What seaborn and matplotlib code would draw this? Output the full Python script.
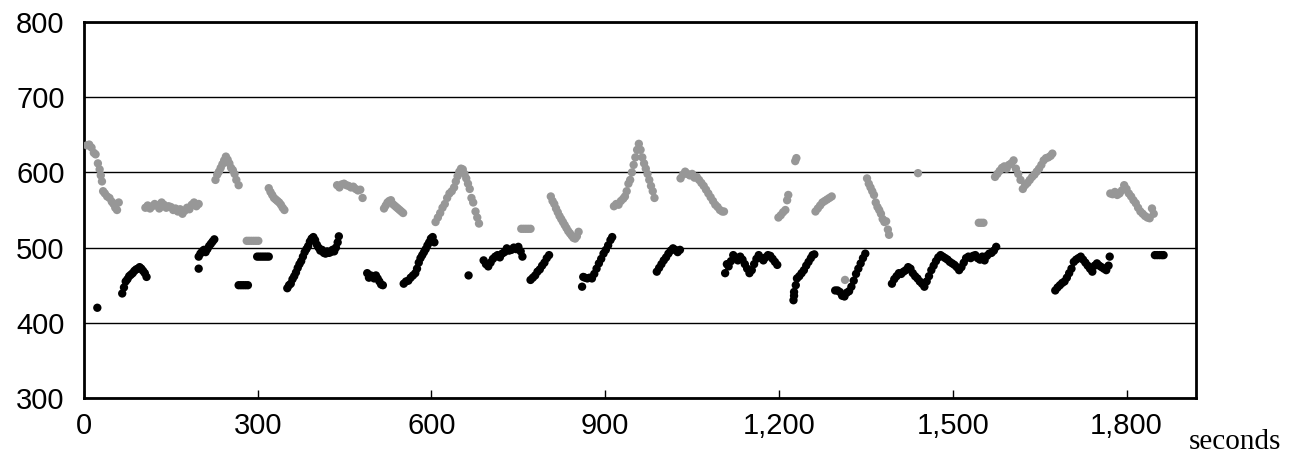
import matplotlib
matplotlib.use("Agg")
import matplotlib.pyplot as plt
import matplotlib.ticker as mticker
import seaborn as sns
import pandas as pd

# ---- data (seconds, value) ----
gray_x = [5, 9, 13, 17, 20, 24, 27, 29, 31, 33, 36, 40, 44, 48, 51, 54, 57, 60,
          106, 110, 114, 118, 122, 126, 130, 134, 138, 142, 146, 150, 154, 158, 162, 166, 170, 174, 178, 182, 186, 190, 194, 198,
          227, 230, 233, 236, 239, 242, 245, 248, 251, 254, 257, 260, 263, 267,
          281, 285, 289, 293, 297, 301,
          319, 322, 325, 328, 331, 334, 337, 340, 343, 346,
          437, 441, 445, 449, 453, 457, 461, 465, 469, 473, 477, 481,
          518, 521, 524, 527, 530, 533, 536, 539, 542, 545, 548, 551,
          607, 611, 615, 619, 623, 627, 631, 635, 639, 642, 645, 648, 651, 654, 657, 660, 663, 666, 669, 672, 676, 679, 682,
          755, 759, 763, 767, 771,
          806, 809, 812, 815, 818, 821, 824, 827, 830, 833, 836, 839, 842, 845, 848, 851, 854,
          915, 919, 923, 927, 931, 934, 937, 940, 943, 946, 949, 952, 955, 958, 961, 964, 967, 970, 973, 976, 979, 982, 985,
          1030, 1034, 1038, 1042, 1046, 1050, 1054, 1058, 1062, 1066, 1070, 1074, 1078, 1082, 1086, 1090, 1094, 1098, 1102, 1105,
          1199, 1203, 1207, 1211, 1214, 1216, 1228, 1230,
          1263, 1267, 1271, 1275, 1279, 1283, 1287, 1291,
          1314,
          1352, 1355, 1358, 1361, 1364, 1367, 1370, 1373, 1376, 1379, 1382, 1385, 1388, 1390,
          1440,
          1545, 1549, 1553,
          1573, 1577, 1581, 1585, 1589, 1593, 1597, 1601, 1605, 1609, 1613, 1617, 1621, 1625, 1629, 1633, 1637, 1641, 1645, 1649, 1653, 1657, 1661, 1665, 1669, 1672,
          1772, 1776, 1780, 1784, 1788, 1792, 1796, 1800, 1804, 1808, 1812, 1816, 1820, 1824, 1828, 1832, 1836, 1840, 1844, 1847]
gray_y = [636, 637, 633, 626, 624, 612, 604, 596, 588, 575, 572, 568, 566, 561, 558, 553, 550, 560,
          553, 556, 552, 555, 558, 556, 552, 560, 557, 553, 555, 554, 550, 552, 548, 551, 545, 549, 553, 551, 557, 560, 555, 558,
          590, 597, 601, 606, 611, 616, 621, 617, 612, 606, 603, 598, 590, 583,
          509, 509, 509, 509, 509, 509,
          579, 574, 570, 566, 564, 562, 560, 557, 553, 550,
          583, 580, 584, 585, 583, 582, 580, 581, 578, 576, 577, 566,
          552, 556, 560, 562, 563, 558, 556, 554, 552, 550, 548, 546,
          534, 540, 546, 553, 558, 566, 572, 575, 580, 588, 595, 601, 605, 604, 598, 592, 585, 578, 566, 560, 548, 540, 532,
          525, 525, 525, 525, 525,
          568, 562, 558, 552, 547, 542, 538, 534, 530, 526, 522, 519, 516, 513, 512, 515, 521,
          555, 558, 557, 562, 565, 568, 575, 585, 590, 600, 610, 620, 630, 638, 630, 620, 612, 605, 598, 590, 582, 575, 566,
          592, 597, 601, 598, 596, 598, 593, 594, 590, 586, 582, 577, 572, 567, 562, 557, 554, 550, 548, 548,
          540, 543, 547, 550, 563, 570, 615, 619,
          548, 552, 556, 560, 562, 564, 566, 568,
          457,
          592, 585, 580, 575, 570, 560, 554, 550, 545, 538, 534, 535, 524, 517,
          599,
          533, 533, 533,
          594, 598, 602, 606, 608, 605, 610, 612, 616, 605, 598, 590, 578, 583, 586, 590, 594, 597, 601, 605, 610, 616, 619, 620, 622, 625,
          572, 571, 574, 570, 572, 576, 583, 578, 572, 568, 563, 559, 553, 548, 545, 542, 540, 539, 552, 545]

black_x = [23,
           66, 69, 72, 75, 78, 81, 84, 87, 90, 93, 96, 99, 102, 105, 108,
           198,
           198, 201, 204, 207, 210, 213, 216, 219, 222, 225,
           267, 271, 275, 279, 283,
           299, 303, 307, 311, 315, 319,
           351, 354, 357, 360, 363, 366, 369, 372, 375, 378, 381, 384, 387, 390, 393, 396, 399, 402, 405, 408, 411, 414, 417, 420, 423, 426, 429, 432, 435, 438, 440,
           489, 492, 495, 498, 501, 504, 507, 510, 513, 516,
           552, 556, 560, 564, 568, 572, 575, 578, 581, 584, 587, 590, 593, 596, 599, 602, 605,
           664,
           690, 694, 698, 702, 706, 710, 714, 718, 722, 726, 730, 734, 738, 742, 746, 750, 754, 757,
           771, 775, 779, 783, 787, 791, 795, 799, 803,
           860, 862, 865, 869, 873, 877, 881, 885, 889, 893, 897, 901, 905, 909, 912,
           989, 993, 997, 1001, 1005, 1009, 1013, 1017, 1021, 1025, 1029,
           1107, 1110, 1113, 1117, 1121, 1125, 1129, 1133, 1137, 1141, 1145, 1149, 1153, 1157, 1161, 1165, 1169, 1173, 1177, 1181, 1185, 1189, 1193, 1197,
           1225, 1226, 1226, 1229, 1231, 1235, 1239, 1243, 1247, 1251, 1255, 1258, 1261,
           1297, 1301, 1305, 1309, 1313, 1317, 1321, 1325, 1329, 1333, 1337, 1341, 1345, 1349,
           1395, 1399, 1403, 1407, 1411, 1415, 1419, 1423, 1427, 1431, 1435, 1439, 1443, 1447, 1451, 1455, 1459, 1463, 1467, 1471, 1475, 1479, 1483, 1487, 1491, 1495, 1499, 1503, 1507, 1511, 1515, 1519, 1523, 1527, 1531, 1535, 1539, 1543, 1547, 1551, 1555, 1559, 1563, 1567, 1571, 1575,
           1677, 1681, 1685, 1689, 1693, 1697, 1701, 1705, 1709, 1713, 1717, 1721, 1725, 1729, 1733, 1737, 1741, 1745, 1749, 1753, 1757, 1761, 1765, 1769, 1771,
           1849, 1853, 1857, 1861, 1864]
black_y = [420,
           439, 447, 455, 458, 462, 464, 466, 469, 471, 472, 474, 472, 469, 466, 461,
           472,
           488, 492, 495, 497, 494, 498, 502, 505, 508, 511,
           450, 450, 450, 450, 450,
           488, 488, 488, 488, 488, 488,
           446, 450, 452, 458, 462, 467, 473, 478, 482, 488, 494, 498, 502, 508, 512, 514, 510, 504, 500, 496, 497, 493, 492, 495, 493, 494, 497, 495, 500, 507, 515,
           466, 460, 463, 462, 459, 463, 459, 455, 451, 450,
           452, 455, 456, 460, 463, 466, 472, 480, 486, 490, 494, 498, 503, 507, 512, 514, 507,
           463,
           483, 478, 475, 480, 485, 488, 490, 487, 492, 494, 499, 496, 497, 500, 498, 501, 495, 488,
           457, 460, 463, 468, 471, 476, 480, 486, 490,
           448, 461, 460, 459, 460, 459, 465, 472, 479, 485, 492, 497, 503, 510, 514,
           468, 473, 478, 483, 487, 492, 496, 499, 497, 494, 497,
           466, 478, 475, 482, 490, 487, 483, 488, 484, 478, 472, 466, 470, 478, 485, 490, 486, 483, 487, 490, 489, 485, 481, 477,
           430, 436, 441, 450, 459, 462, 466, 470, 476, 481, 486, 490, 491,
           443, 443, 441, 436, 435, 440, 442, 448, 456, 465, 472, 479, 486, 492,
           452, 458, 462, 466, 465, 468, 470, 474, 472, 466, 462, 459, 455, 452, 448, 455, 462, 470, 476, 482, 487, 490, 488, 486, 484, 481, 479, 477, 474, 470, 474, 480, 486, 488, 486, 489, 490, 486, 484, 488, 483, 489, 492, 493, 496, 501,
           443, 447, 450, 453, 455, 460, 466, 472, 481, 484, 486, 488, 484, 480, 476, 472, 468, 476, 479, 476, 474, 472, 470, 476, 488,
           490, 490, 490, 490, 490]

x_ticks = [0, 300, 600, 900, 1200, 1500, 1800]
y_ticks = [300, 400, 500, 600, 700, 800]
x_unit = "seconds"

df = pd.concat([
    pd.DataFrame({"t": gray_x, "v": gray_y, "series": "gray"}),
    pd.DataFrame({"t": black_x, "v": black_y, "series": "black"}),
], ignore_index=True)

sns.set_style("white")
plt.rcParams["font.family"] = ["Liberation Sans", "DejaVu Sans"]

fig = plt.figure(figsize=(13.03, 4.57), dpi=100)
ax = fig.add_axes([84 / 1303, 1 - 398 / 457, (1196 - 84) / 1303, (398 - 22) / 457])

sns.scatterplot(data=df, x="t", y="v", hue="series",
                palette={"gray": "#979797", "black": "#000000"},
                s=36, linewidth=0, legend=False, ax=ax, zorder=3)

ax.set_xlim(0, 1920)
ax.set_ylim(300, 800)
ax.set_xticks(x_ticks)
ax.set_yticks(y_ticks)
ax.xaxis.set_major_formatter(mticker.FuncFormatter(lambda v, p: f"{int(v):,}"))
ax.yaxis.grid(True, color="black", linewidth=1.0, zorder=1)
ax.xaxis.grid(False)
ax.set_axisbelow(True)
for sp in ax.spines.values():
    sp.set_color("black")
    sp.set_linewidth(2.0)
ax.tick_params(axis="x", direction="in", length=6, width=1.0, color="black",
               labelsize=21, pad=10, bottom=True)
ax.tick_params(axis="y", length=0, labelsize=21, pad=14, left=True)
ax.set_xlabel("")
ax.set_ylabel("")
for lab in ax.get_xticklabels() + ax.get_yticklabels():
    lab.set_color("black")

ax.annotate(x_unit, xy=(1.0, 0), xycoords="axes fraction",
            xytext=(-7, -51), textcoords="offset pixels",
            ha="left", va="baseline", fontsize=21,
            family=["Liberation Serif", "DejaVu Serif"], color="black")

fig.savefig("out.png", dpi=100)
